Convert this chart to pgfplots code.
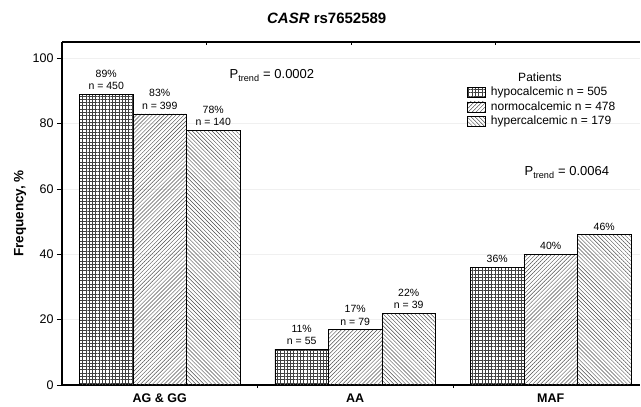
\documentclass[border=0pt]{standalone}
\usepackage{pgfplots}
\pgfplotsset{compat=1.18}
\usetikzlibrary{patterns.meta}
\usepackage{fontspec}
\setmainfont{Liberation Sans}
\begin{document}
\begin{tikzpicture}
\begin{axis}[
  name=main,
  width=578pt, height=343pt, scale only axis,
  xmin=-0.5, xmax=2.457, ymin=0, ymax=105,
  clip=false,
  axis x line=bottom, axis y line=left,
  axis line style={-, line width=1.1pt},
  ytick={0,20,...,100},
  xtick={0,1,2},
  xticklabels={AG \& GG, AA, MAF},
  x tick label style={font=\fontsize{12.5}{15}\selectfont\bfseries},
  y tick label style={font=\fontsize{12.5}{15}\selectfont},
  /pgf/number format/assume math mode=true,
  tick align=outside,
  major tick length=5pt,
  minor tick length=3pt,
  major x tick style={draw=none},
  minor xtick={0.5,1.5},
  tick style={line width=0.8pt, black},
  ymajorgrids, grid style={gray!12, line width=0.8pt},
  ybar=0pt, bar width=53.5pt,
  nodes near coords,
  point meta=explicit symbolic,
  nodes near coords style={anchor=south, yshift=3pt, inner sep=1pt, align=center, font=\fontsize{10.5}{12.5}\selectfont},
  legend image code/.code={\draw[#1] (0pt,-5pt) rectangle (18pt,5pt);},
  legend style={draw=none, fill=none, at={(0.700,0.875)}, anchor=north west, inner sep=0pt, row sep=0pt,
    font=\fontsize{12}{14}\selectfont,
    nodes={inner sep=1.5pt, text height=9pt, text depth=2.5pt},
    /tikz/every odd column/.append style={column sep=4pt}},
  legend cell align=left,
]
\addplot[draw=black, line width=0.6pt, pattern color=black!75, pattern={Hatch[angle=0, distance=3.3pt, line width=0.45pt]}]
  coordinates {(0,89) [89\%\\n = 450] (1,11) [11\%\\n = 55] (2,36) [36\%]};
\addlegendentry{hypocalcemic n = 505}
\addplot[draw=black, line width=0.6pt, pattern color=black!70, pattern={Lines[angle=45, distance=2.8pt, line width=0.45pt]}]
  coordinates {(0,83) [83\%\\n = 399] (1,17) [17\%\\n = 79] (2,40) [40\%]};
\addlegendentry{normocalcemic n = 478}
\addplot[draw=black, line width=0.6pt, pattern color=black!70, pattern={Lines[angle=-45, distance=2.8pt, line width=0.45pt]}]
  coordinates {(0,78) [78\%\\n = 140] (1,22) [22\%\\n = 39] (2,46) [46\%]};
\addlegendentry{hypercalcemic n = 179}
\node[font=\fontsize{12}{14}\selectfont] at (axis cs:1.945,94.2) {Patients};
\node[font=\fontsize{13}{15}\selectfont] at (axis cs:0.574,94.8) {P\textsubscript{trend} = 0.0002};
\node[font=\fontsize{13}{15}\selectfont] at (axis cs:2.083,65.1) {P\textsubscript{trend} = 0.0064};
\node[font=\fontsize{15}{18}\selectfont\bfseries] at (rel axis cs:0.458,1) [yshift=24pt] {\textit{CASR} rs7652589};
\end{axis}
\begin{axis}[
  width=578pt, height=343pt, scale only axis,
  xmin=0, xmax=1, ymin=0, ymax=1,
  axis x line=top, axis y line=none,
  axis line style={-, line width=1.1pt},
  xtick={0.25,0.5,0.75}, xticklabels={}, ytick=\empty,
  tick align=inside, major tick length=3pt,
  tick style={line width=0.8pt, black},
]
\end{axis}
\node[rotate=90, font=\fontsize{13.5}{16}\selectfont\bfseries] at ([xshift=-42pt]main.west) {Frequency, \%};
\path ([shift={(-62pt,-21pt)}]main.south west) rectangle ([shift={(1pt,42pt)}]main.north east);
\end{tikzpicture}
\end{document}
